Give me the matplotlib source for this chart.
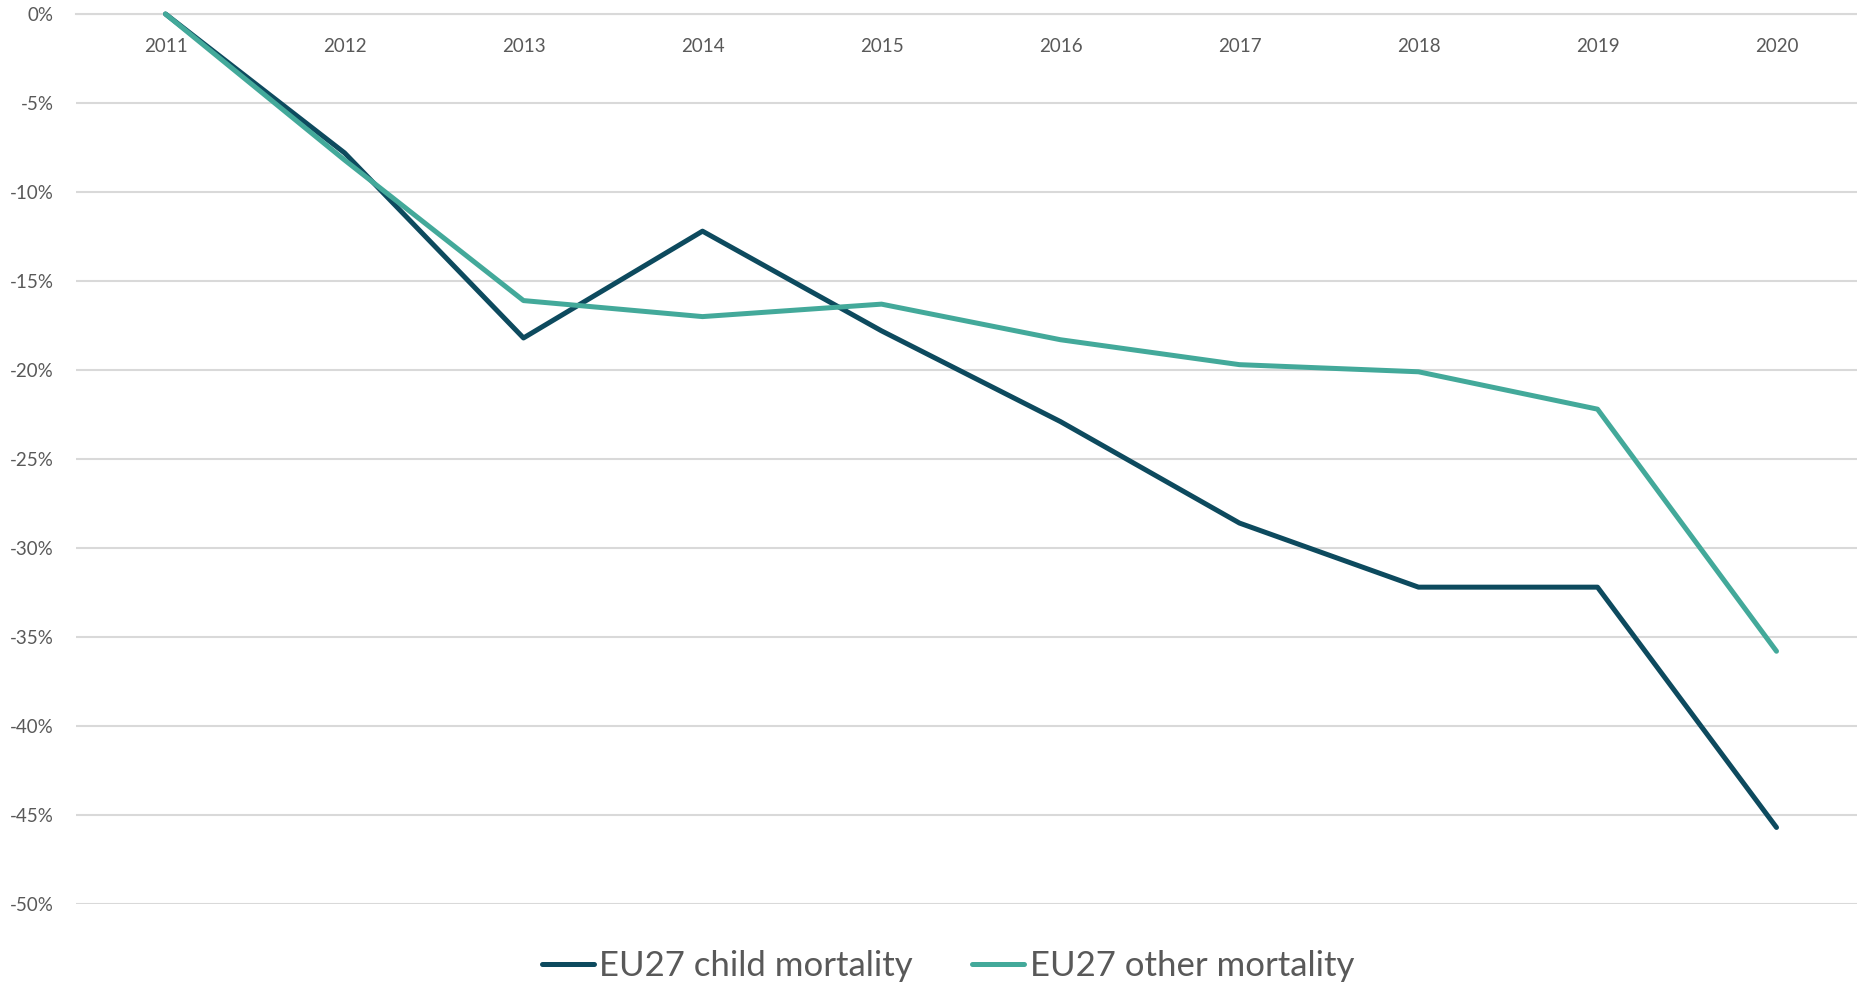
import matplotlib
matplotlib.use("Agg")
import matplotlib.pyplot as plt
from matplotlib.ticker import FuncFormatter

years = ["2011", "2012", "2013", "2014", "2015", "2016", "2017", "2018", "2019", "2020"]
child_mortality = [0.0, -7.8, -18.2, -12.2, -17.8, -22.9, -28.6, -32.2, -32.2, -45.7]
other_mortality = [0.0, -8.2, -16.1, -17.0, -16.3, -18.3, -19.7, -20.1, -22.2, -35.8]
yticks = [0, -5, -10, -15, -20, -25, -30, -35, -40, -45, -50]

plt.rcParams['font.family'] = ['Lato', 'DejaVu Sans']
W, H = 1857, 983
fig = plt.figure(figsize=(W / 100, H / 100), dpi=100)
left, right, top, bottom = 76, 1866, 14, 904
ax = fig.add_axes([left / W, (H - bottom) / H, (right - left) / W, (bottom - top) / H])

x = list(range(len(years)))
ax.plot(x, child_mortality, color="#0d4a5e", lw=3.6, solid_capstyle="round",
        solid_joinstyle="round", clip_on=False, label="EU27 child mortality", zorder=3)
ax.plot(x, other_mortality, color="#43a99a", lw=3.6, solid_capstyle="round",
        solid_joinstyle="round", clip_on=False, label="EU27 other mortality", zorder=3)

ax.set_xlim(-0.5, len(years) - 0.5)
ax.set_ylim(-50, 0)
ax.set_yticks(yticks)
ax.yaxis.set_major_formatter(FuncFormatter(lambda v, p: f"{int(round(v))}%"))
ax.set_xticks(x)
ax.set_xticklabels(years)

for s in ["left", "right", "top"]:
    ax.spines[s].set_visible(False)
ax.spines["bottom"].set_position(("data", 0))
ax.spines["bottom"].set_color("#d9d9d9")
ax.spines["bottom"].set_linewidth(1.5)
ax.grid(axis="y", color="#d9d9d9", lw=1.5)
ax.set_axisbelow(True)
ax.tick_params(axis="both", length=0, colors="#595959", labelsize=13.5)
ax.tick_params(axis="x", pad=17.5)
ax.tick_params(axis="y", pad=16)

leg = fig.legend(loc="center", bbox_to_anchor=(948 / W, 1 - 966 / H), ncol=2, frameon=False,
                 fontsize=25, handlelength=1.5, handletextpad=0.17, columnspacing=1.7,
                 labelcolor="#595959")

fig.savefig("out.png", dpi=100)
